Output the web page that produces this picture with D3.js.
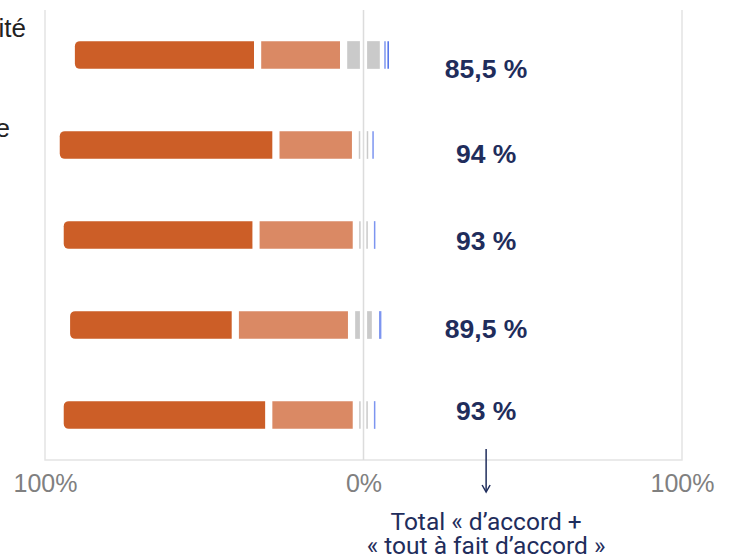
<!DOCTYPE html>
<html>

<head>
    <meta charset="utf-8">
    <title>Total d'accord</title>
    <script src="https://cdn.jsdelivr.net/npm/d3@7"></script>
    <style>
        body {
            margin: 0;
            background: #fff;
        }

        .tick text {
            font-family: "Liberation Sans", Arial, sans-serif;
            font-size: 25px;
            fill: #808080;
        }

        .total-label {
            font-family: "Liberation Sans", Arial, sans-serif;
            font-weight: bold;
            font-size: 26.5px;
            fill: #1f2d5c;
            text-anchor: middle;
        }

        .note {
            font-family: Roboto, sans-serif;
            font-size: 24.5px;
            fill: #1f2d5c;
            text-anchor: middle;
        }
    </style>
</head>

<body>
    <script>
        // Row labels (only their ends are visible, the rest is cut off on the left)
        const rowLabels = ['ité', 'e', '', '', ''];

        // Series values, in %
        const toutAFait = [58.5, 69, 61.5, 53, 65.5];
        const dAccord = [27, 25, 31.5, 36.5, 27.5];
        const neutre = [12.5, 5, 4.5, 7.5, 4.5];
        const pasDAccord = [1, 1, 2.5, 3, 2.5];
        const pasDuTout = [1, 0, 0, 0, 0];

        const totals = ['85,5 %', '94 %', '93 %', '89,5 %', '93 %'];
        const tickValues = [-100, 0, 100];

        const seriesColors = ['#cc5e27', '#da8964', '#cacaca', '#7d95f0', '#4e6ee8'];

        const width = 730;
        const height = 559;
        const plot = { left: 45, right: 682, top: 10, bottom: 460 };

        const svg = d3.select('body')
            .append('svg')
            .attr('width', width)
            .attr('height', height);

        const xScale = d3.scaleLinear()
            .domain([-100, 100])
            .range([plot.left, plot.right]);

        const yScale = d3.scaleBand()
            .domain(d3.range(rowLabels.length))
            .range([plot.top, plot.bottom])
            .paddingInner(0.67)
            .paddingOuter(0.335);

        // Frame and zero line
        const frameColor = '#e4e4e4';
        svg.append('path')
            .attr('d', `M${plot.left},${plot.top}V${plot.bottom}H${plot.right}V${plot.top}`)
            .attr('fill', 'none')
            .attr('stroke', frameColor)
            .attr('stroke-width', 1.5);

        svg.append('line')
            .attr('x1', xScale(0))
            .attr('x2', xScale(0))
            .attr('y1', plot.top)
            .attr('y2', plot.bottom)
            .attr('stroke', '#dcdcdc')
            .attr('stroke-width', 1.5);

        // Build segments: agreement to the left of 0, neutral split in two halves around 0
        const segments = [];
        rowLabels.forEach((label, i) => {
            const values = [toutAFait[i], dAccord[i], neutre[i], pasDAccord[i], pasDuTout[i]];
            let start = -(toutAFait[i] + dAccord[i] + neutre[i] / 2);
            values.forEach((v, k) => {
                if (v > 0) {
                    if (k === 2) {
                        segments.push({ row: i, k: k, x0: start, x1: 0 });
                        segments.push({ row: i, k: k, x0: 0, x1: start + v });
                    } else {
                        segments.push({ row: i, k: k, x0: start, x1: start + v });
                    }
                }
                start += v;
            });
        });

        const gap = 3.6;
        const bh = yScale.bandwidth() - 2;

        svg.selectAll('.seg')
            .data(segments)
            .enter()
            .append('path')
            .attr('class', 'seg')
            .attr('fill', d => seriesColors[d.k])
            .attr('d', d => {
                const a = xScale(d.x0);
                const b = xScale(d.x1);
                const w = b - a;
                const vw = Math.max(w - 2 * gap, Math.min(w, 1.5));
                const x = a + (w - vw) / 2;
                const y = yScale(d.row) + 1;
                if (d.k === 0) {
                    // rounded left end
                    const r = 5;
                    return `M${x + r},${y}H${x + vw}V${y + bh}H${x + r}` +
                        `A${r},${r} 0 0 1 ${x},${y + bh - r}V${y + r}A${r},${r} 0 0 1 ${x + r},${y}Z`;
                }
                return `M${x},${y}H${x + vw}V${y + bh}H${x}Z`;
            });

        // Total labels
        const labelShift = [13, 8, 5, 3, -5];
        svg.selectAll('.total-label')
            .data(totals)
            .enter()
            .append('text')
            .attr('class', 'total-label')
            .attr('x', xScale(38.5))
            .attr('y', (d, i) => yScale(i) + yScale.bandwidth() / 2 + labelShift[i])
            .attr('dy', '0.36em')
            .text(d => d);

        // Cut-off row labels on the left
        const rowLabelShift = [-18, -8, 0, 0, 0];
        svg.selectAll('.row-label')
            .data(rowLabels)
            .enter()
            .append('text')
            .attr('class', 'row-label')
            .attr('x', (d, i) => i === 0 ? 26 : 10)
            .attr('y', (d, i) => yScale(i) + yScale.bandwidth() / 2 + rowLabelShift[i])
            .attr('text-anchor', 'end')
            .style('font-family', 'Liberation Sans, Arial, sans-serif')
            .style('font-size', '26px')
            .style('fill', '#222')
            .text(d => d);

        // X axis
        const xAxis = svg.append('g')
            .attr('transform', `translate(0, ${plot.bottom})`)
            .call(d3.axisBottom(xScale)
                .tickValues(tickValues)
                .tickSize(0)
                .tickPadding(14)
                .tickFormat(d => Math.abs(d) + '%'));
        xAxis.select('.domain').remove();

        // Annotation arrow and note
        const ax = xScale(38.5);
        svg.append('line')
            .attr('x1', ax).attr('x2', ax)
            .attr('y1', 449).attr('y2', 491)
            .attr('stroke', '#1f2d5c')
            .attr('stroke-width', 1.5);
        svg.append('path')
            .attr('d', `M${ax - 4},${485}L${ax},${492}L${ax + 4},${485}`)
            .attr('fill', 'none')
            .attr('stroke', '#1f2d5c')
            .attr('stroke-width', 1.5);

        svg.append('text')
            .attr('class', 'note')
            .attr('x', ax)
            .attr('y', 530)
            .text('Total « d’accord +');
        svg.append('text')
            .attr('class', 'note')
            .attr('x', ax)
            .attr('y', 554)
            .text('« tout à fait d’accord »');
    </script>
</body>

</html>
